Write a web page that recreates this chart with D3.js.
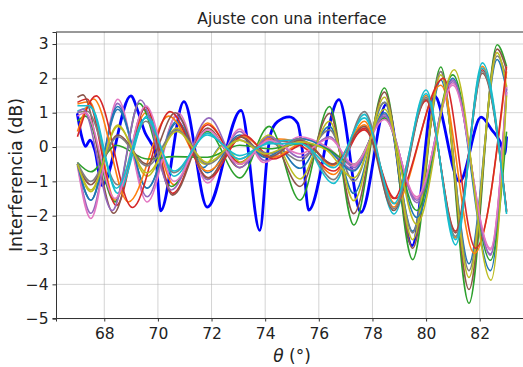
<!DOCTYPE html>
<html>
<head>
<meta charset="utf-8">
<script src="https://cdn.jsdelivr.net/npm/d3@7"></script>
<style>
  html, body { margin: 0; padding: 0; background: #fff; }
  svg { display: block; }
  text { font-family: "DejaVu Sans", sans-serif; fill: #222; }
</style>
</head>
<body>
<svg id="chart" width="523" height="367"></svg>
<script>
// Axis ticks
const xTicks = [68, 70, 72, 74, 76, 78, 80, 82];
const yTicks = [3, 2, 1, 0, -1, -2, -3, -4, -5];

// Measured interference, [theta (deg), dB]
const measured = [[67.0,0.95],[67.16,0.3],[67.3,0.02],[67.47,0.2],[67.65,-0.1],[67.92,-1.12],[68.99,1.49],[69.28,0.98],[69.53,0.4],[69.72,0.15],[69.91,-0.18],[70.1,-1.86],[70.97,1.32],[71.84,-1.75],[73.1,1.07],[73.8,-2.43],[74.09,-0.18],[74.21,0.4],[74.46,0.74],[74.9,0.88],[75.21,0.69],[75.4,-0.18],[75.62,-1.84],[76.75,1.38],[77.57,-1.9],[78.52,1.25],[79.48,-2.87],[80.3,1.5],[81.25,-1.01],[82.05,0.87],[82.45,0.5],[82.76,0.15],[82.93,-0.2],[83.0,0.28]];

// Single-interface fits, [theta (deg), dB] at turning points
const fit00 = [[67.0,-0.5],[67.5,-1.55],[68.5,1.1],[69.6,-1.2],[70.7,0.7],[71.7,-0.6],[72.4,0.05],[73.05,-0.5],[74.15,0.3],[75.3,-0.62],[76.4,0.6],[77.3,-1.35],[78.45,1.3],[79.5,-2.45],[80.55,1.95],[81.6,-3.4],[82.65,2.55],[83.0,1.65]];
const fit01 = [[67.0,1.25],[67.45,1.32],[68.4,-1.55],[69.55,1.0],[70.6,-1.1],[71.85,0.7],[73.05,-0.5],[74.15,0.25],[75.3,0.15],[76.55,-0.8],[77.7,0.75],[78.8,-1.75],[80.0,1.5],[81.1,-2.65],[82.1,2.35],[83.0,-1.9]];
const fit02 = [[67.0,0.75],[67.3,0.9],[68.4,-1.6],[69.3,1.27],[70.5,-1.15],[71.85,0.45],[73.05,-0.9],[74.15,0.6],[75.3,-1.55],[76.4,1.18],[77.3,-2.27],[78.45,1.72],[79.5,-3.28],[80.55,2.33],[81.6,-4.55],[82.65,2.98],[83.0,2.35]];
const fit03 = [[67.0,1.3],[67.35,1.4],[68.45,-1.7],[69.55,1.17],[70.55,-1.35],[71.85,0.65],[73.05,-0.45],[74.15,0.2],[75.3,0.05],[76.55,-0.7],[77.7,0.55],[78.8,-1.5],[80.0,1.35],[81.1,-2.45],[82.1,2.25],[83.0,-1.85]];
const fit04 = [[67.0,-0.5],[67.5,-1.93],[68.5,1.27],[69.6,-1.45],[70.7,0.9],[71.85,-0.95],[73.05,0.45],[74.0,-0.4],[75.3,0.25],[76.3,0.0],[77.3,-0.66],[78.45,0.95],[79.65,-1.62],[81.0,1.9],[82.4,-3.12],[83.0,1.75]];
const fit05 = [[67.0,1.45],[67.2,1.52],[68.35,-1.93],[69.5,1.1],[70.55,-1.4],[71.85,0.55],[73.05,-0.6],[74.15,0.3],[75.3,-1.15],[76.4,0.98],[77.3,-1.94],[78.45,1.6],[79.5,-2.95],[80.55,2.2],[81.6,-4.15],[82.65,2.85],[83.0,2.25]];
const fit06 = [[67.0,-0.55],[67.5,-2.08],[68.5,1.39],[69.6,-1.6],[70.75,1.0],[71.85,-1.05],[73.05,0.52],[73.95,-0.45],[75.3,0.3],[76.3,0.0],[77.3,-0.55],[78.45,0.85],[79.65,-1.5],[81.0,1.85],[82.4,-3.0],[83.0,1.8]];
const fit07 = [[67.0,1.0],[67.35,1.05],[68.5,-1.1],[69.55,0.75],[70.6,-0.75],[71.85,0.4],[73.05,-0.35],[74.15,0.15],[75.3,-0.4],[76.4,0.5],[77.3,-1.0],[78.45,1.3],[79.5,-2.5],[80.55,2.2],[81.6,-3.6],[82.65,2.65],[83.0,2.0]];
const fit08 = [[67.0,-0.5],[67.5,-1.3],[68.5,0.64],[69.6,-0.85],[70.7,0.55],[71.75,-0.5],[72.45,0.05],[73.1,-0.45],[74.15,0.35],[75.3,-0.93],[76.4,0.75],[77.3,-1.56],[78.45,1.45],[79.5,-2.7],[80.55,2.1],[81.6,-3.8],[82.65,2.75],[83.0,1.75]];
const fit09 = [[67.0,1.05],[67.5,1.15],[68.5,-1.35],[69.6,0.9],[70.6,-0.85],[71.85,0.4],[73.05,-0.35],[74.15,0.15],[75.3,0.2],[76.55,-1.06],[77.7,0.95],[78.8,-1.95],[80.0,1.66],[81.1,-2.85],[82.1,2.45],[83.0,-1.9]];
const fit10 = [[67.0,-0.5],[67.5,-1.55],[68.5,1.18],[69.6,-1.2],[70.7,0.75],[71.85,-0.75],[73.05,0.35],[74.0,-0.3],[75.3,0.25],[76.3,-0.05],[77.3,-0.7],[78.45,1.0],[79.65,-2.05],[81.0,2.0],[82.4,-3.6],[83.0,1.6]];
const fit11 = [[67.0,0.45],[67.6,1.4],[68.9,-1.6],[70.4,0.9],[71.85,-0.7],[73.2,0.3],[74.3,-0.3],[75.5,0.15],[76.5,-0.55],[77.7,0.65],[78.85,-1.65],[80.55,1.8],[81.8,-3.1],[83.0,2.2]];
const fit12 = [[67.0,-0.45],[67.5,-0.72],[68.45,0.05],[69.6,-0.35],[70.6,-0.28],[71.85,-0.3],[73.05,0.05],[74.15,-0.05],[75.3,0.1],[76.3,-0.05],[77.3,-0.5],[78.45,0.85],[79.65,-1.85],[81.0,2.1],[82.4,-3.3],[83.0,0.45]];
const fit13 = [[67.0,0.3],[67.7,1.49],[69.05,-1.76],[70.45,1.03],[71.9,-0.9],[73.2,0.35],[74.3,-0.35],[75.5,0.1],[76.5,-0.5],[77.7,0.5],[78.85,-1.5],[80.65,2.0],[81.85,-2.95],[83.0,2.35]];
const fit14 = [[67.0,1.0],[67.2,1.1],[68.3,-1.85],[69.35,1.37],[70.5,-1.25],[71.9,0.85],[73.05,-0.6],[74.15,0.3],[75.3,-0.3],[76.4,0.3],[77.3,-0.6],[78.45,0.9],[79.65,-1.55],[81.0,1.95],[82.4,-3.15],[83.0,1.7]];
const fit15 = [[67.0,-0.5],[67.5,-1.1],[68.5,0.35],[69.6,-0.5],[70.65,1.0],[71.85,-0.9],[73.05,0.3],[74.15,-0.3],[75.3,0.2],[76.55,-0.5],[77.7,0.6],[78.8,-1.85],[80.0,1.4],[81.1,-2.5],[82.1,2.15],[83.0,-1.88]];
const fit16 = [[67.0,0.9],[67.3,1.0],[68.4,-1.5],[69.55,1.2],[70.6,-1.0],[71.85,0.5],[73.05,-0.5],[74.15,0.2],[75.3,-0.2],[76.4,0.25],[77.3,-0.5],[78.45,0.8],[79.65,-1.45],[81.0,1.8],[82.4,-2.95],[83.0,1.6]];
const fit17 = [[67.0,-0.45],[67.5,-1.0],[68.5,0.3],[69.6,-0.55],[70.7,0.5],[71.85,-0.5],[73.05,0.2],[74.15,-0.2],[75.3,0.25],[76.55,-0.95],[77.7,1.03],[78.8,-1.8],[80.0,1.45],[81.1,-2.6],[82.1,2.2],[83.0,-1.85]];
const fit18 = [[67.0,-0.5],[67.5,-1.25],[68.5,0.6],[69.6,-0.75],[70.7,0.45],[71.85,-0.45],[73.05,0.2],[74.0,-0.2],[75.3,0.15],[76.3,-0.1],[77.3,-0.9],[78.45,1.1],[79.65,-2.25],[81.05,2.25],[82.42,-3.88],[83.0,1.5]];
const fit19 = [[67.0,1.2],[67.45,1.2],[68.45,-1.2],[69.55,0.85],[70.6,-0.7],[71.85,0.35],[73.05,-0.25],[74.15,0.1],[75.3,0.1],[76.55,-0.6],[77.7,0.85],[78.8,-1.65],[80.0,1.55],[81.1,-2.7],[82.1,2.3],[83.0,-1.95]];

const fits = [fit00, fit01, fit02, fit03, fit04, fit05, fit06, fit07, fit08, fit09,
              fit10, fit11, fit12, fit13, fit14, fit15, fit16, fit17, fit18, fit19];

const palette = ["#1f77b4", "#ff7f0e", "#2ca02c", "#d62728", "#9467bd",
                 "#8c564b", "#e377c2", "#7f7f7f", "#bcbd22", "#17becf"];

const svg = d3.select("#chart");
const margin = { left: 56, top: 32, right: -5, bottom: 49 };
const W = 523, H = 367;
const x0 = margin.left, x1 = W - margin.right;
const y0 = margin.top, y1 = H - margin.bottom;

const x = d3.scaleLinear().domain([66.2, 83.8]).range([x0, x1]);
const y = d3.scaleLinear().domain([-4.98, 3.35]).range([y1, y0]);

// Grid
const grid = svg.append("g");
grid.selectAll(".gx").data(xTicks).join("line")
  .attr("x1", d => x(d)).attr("x2", d => x(d))
  .attr("y1", y0).attr("y2", y1)
  .attr("stroke", "#b0b0b0").attr("stroke-opacity", 0.55).attr("stroke-width", 1);
grid.selectAll(".gy").data(yTicks).join("line")
  .attr("x1", x0).attr("x2", x1)
  .attr("y1", d => y(d)).attr("y2", d => y(d))
  .attr("stroke", "#b0b0b0").attr("stroke-opacity", 0.55).attr("stroke-width", 1);

svg.append("clipPath").attr("id", "plotclip")
  .append("rect").attr("x", x0).attr("y", y0).attr("width", x1 - x0).attr("height", y1 - y0);

const line = d3.line()
  .x(d => x(d[0])).y(d => y(d[1]))
  .curve(d3.curveMonotoneX);

const plot = svg.append("g").attr("clip-path", "url(#plotclip)");

plot.append("path").datum(measured)
  .attr("d", line).attr("fill", "none")
  .attr("stroke", "#0000ff").attr("stroke-width", 2.8)
  .attr("stroke-linejoin", "round").attr("stroke-linecap", "round");

plot.selectAll(".fit").data(fits).join("path")
  .attr("d", line).attr("fill", "none")
  .attr("stroke", (d, i) => palette[i % 10])
  .attr("stroke-width", 1.6)
  .attr("stroke-linejoin", "round");

// Axes
const xAxis = d3.axisBottom(x).tickValues(xTicks).tickSize(3.5).tickPadding(6)
  .tickFormat(d3.format("d"));
const yAxis = d3.axisLeft(y).tickValues(yTicks).tickSize(3.5).tickPadding(4)
  .tickFormat(d => d < 0 ? "\u2212" + Math.abs(d) : String(d));

const gx = svg.append("g").attr("transform", `translate(0,${y1})`).call(xAxis);
const gy = svg.append("g").attr("transform", `translate(${x0},0)`).call(yAxis);
[gx, gy].forEach(g => {
  g.select(".domain").attr("stroke", "#333").attr("stroke-width", 1);
  g.selectAll(".tick line").attr("stroke", "#333");
  g.selectAll(".tick text").attr("font-family", "DejaVu Sans, sans-serif")
    .attr("font-size", 15.5).attr("fill", "#222");
});

// Top frame line
svg.append("line").attr("x1", x0).attr("x2", x1).attr("y1", y0).attr("y2", y0)
  .attr("stroke", "#333").attr("stroke-width", 1);

// Title and axis labels
svg.append("text").attr("x", (x0 + x1) / 2).attr("y", 24)
  .attr("text-anchor", "middle").attr("font-size", 15.5)
  .text("Ajuste con una interface");

const xl = svg.append("text").attr("x", (x0 + x1) / 2).attr("y", 362)
  .attr("text-anchor", "middle").attr("font-size", 17);
xl.append("tspan").attr("font-style", "italic").text("θ");
xl.append("tspan").text(" (°)");

svg.append("text")
  .attr("transform", `translate(22,${(y0 + y1) / 2}) rotate(-90)`)
  .attr("text-anchor", "middle").attr("font-size", 17.5)
  .text("Interferencia (dB)");
</script>
</body>
</html>
